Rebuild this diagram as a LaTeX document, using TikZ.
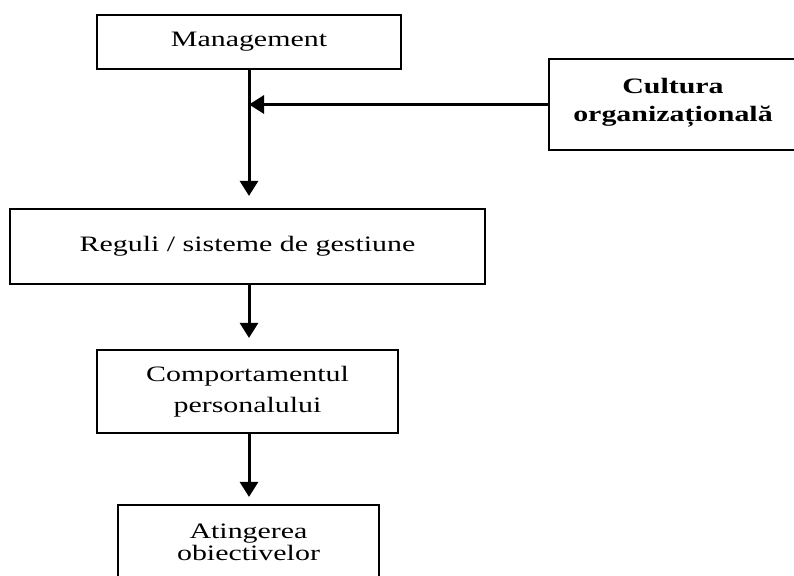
\documentclass[tikz,border=0pt]{standalone}
\usepackage{fontspec}
\usepackage{tikz}
\usetikzlibrary{arrows.meta}
\newfontfamily\boxfont[FakeStretch=1.36]{Liberation Serif}

\begin{document}
\begin{tikzpicture}[x=1pt,y=-1pt,
        box/.style={draw, line width=2.2pt, align=center, inner sep=0pt},
        txt/.style={font=\boxfont\fontsize{22}{26}\selectfont},
        arr/.style={line width=3pt, -{Triangle[width=18pt,length=15pt]}}]

        \useasboundingbox (0,0) rectangle (794,575);

        \node[box, txt, minimum width=304, minimum height=54] (mgmt) at (249,42) {Management};

        \node[box, txt, font=\boxfont\bfseries\fontsize{22}{28}\selectfont, minimum width=248, minimum height=91, text depth=10pt] (cult) at (673,104.5) {Cultura\\organizațională};

        \node[box, txt, minimum width=475, minimum height=75] (regl) at (247.5,246.5) {Reguli / sisteme de gestiune};

        \node[box, txt, font=\boxfont\fontsize{22}{31}\selectfont, minimum width=301, minimum height=83] (comp) at (247.5,391.5) {Comportamentul\\personalului};

        \node[box, minimum width=261, minimum height=140] (ating) at (248.5,575) {};

        \node[txt, font=\boxfont\fontsize{22}{22}\selectfont, align=center, anchor=north, inner sep=0pt] (atingtext) at (248.5,524) {Atingerea\\obiectivelor};

        % arrows
        \draw[arr, shorten >=12pt] (mgmt.south) -- (mgmt.south |- regl.north);

        \draw[arr] (cult.west) -- (cult.west -| mgmt.south);

        \draw[arr, shorten >=11pt] (mgmt.south |- regl.south) -- (mgmt.south |- comp.north);

        \draw[arr, shorten >=7pt] (mgmt.south |- comp.south) -- (mgmt.south |- ating.north);

    \end{tikzpicture}
\end{document}
